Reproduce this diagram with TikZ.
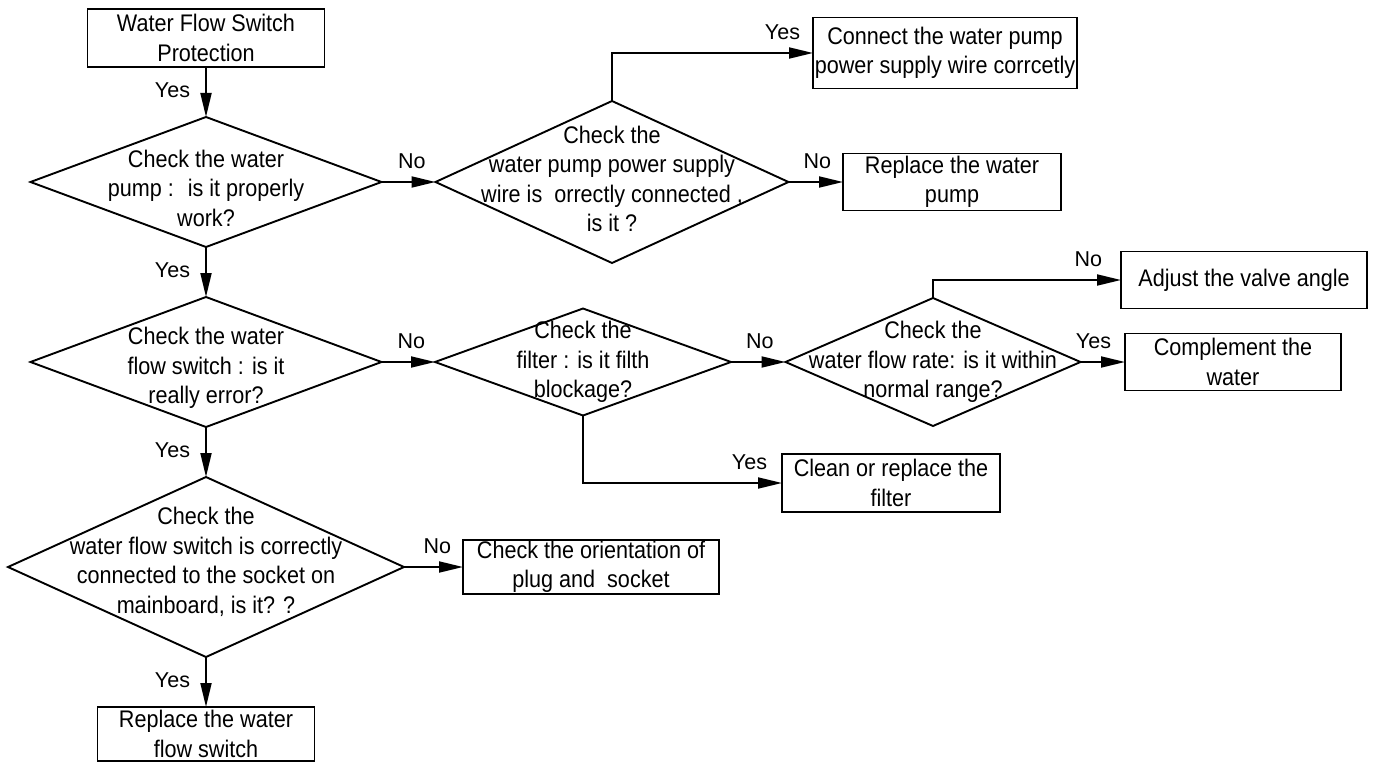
\documentclass[tikz,border=0pt]{standalone}
\usepackage{fontspec}
\setmainfont{Liberation Sans}[FakeStretch=0.9]
\newfontfamily\lblfont{Liberation Sans}
\usetikzlibrary{shapes.geometric, arrows.meta, positioning}
\newcommand\flowfont{\fontsize{24}{29.5}\selectfont}
\tikzset{
    stepbox/.style={rectangle, draw, line width=1.9pt, inner sep=1pt, outer sep=0pt,
        align=center, font=\flowfont},
    decision/.style={diamond, draw, line width=1.9pt, inner sep=0pt, outer sep=0pt},
    question/.style={align=center, inner sep=0pt, font=\flowfont},
    flowarrow/.style={-{Triangle[length=24pt, width=11pt]}, line width=1.9pt},
    answer/.style={inner sep=0pt, text height=15pt, text depth=4pt,
        font=\lblfont\fontsize{21.5}{24}\selectfont},
}

\begin{document}
\begin{tikzpicture}[x=1pt, y=-1pt]
    \useasboundingbox (0,0) rectangle (1373,762);

    % main column
    \node[stepbox, minimum width=237pt, minimum height=58pt] (start) at (206,38) {Water Flow Switch\\Protection};
    \node[decision, minimum width=351pt, minimum height=130pt] (pump) at (206,182) {};
    \node[question, yshift=-6pt] (pumpq) at (pump) {Check the water\\pump :~ is it properly\\work?};
    \node[decision, minimum width=351pt, minimum height=130pt] (flow) at (206,362) {};
    \node[question, yshift=-6pt] (flowq) at (flow) {Check the water\\flow switch : is it\\really error?};
    \node[decision, minimum width=396pt, minimum height=180pt] (socket) at (206,567) {};
    \node[question, yshift=5pt] (socketq) at (socket) {Check the\\water flow switch is correctly\\connected to the socket on\\mainboard, is it? ?};
    \node[stepbox, minimum width=217pt, minimum height=54pt] (rswitch) at (206,734) {Replace the water\\flow switch};

    % pump branch
    \node[decision, minimum width=353pt, minimum height=162pt] (wire) at (612,182) {};
    \node[question, yshift=3pt] (wireq) at (wire) {Check the\\water pump power supply\\wire is~ orrectly connected ,\\is it ?};
    \node[stepbox, minimum width=264pt, minimum height=71pt] (conn) at (945,53) {Connect the water pump\\power supply wire corrcetly};
    \node[stepbox, minimum width=218pt, minimum height=57pt] (rpump) at (952,182) {Replace the water\\pump};

    % flow switch branch
    \node[decision, minimum width=296pt, minimum height=107pt] (filter) at (583,362) {};
    \node[question] (filterq) at (filter) {Check the\\filter : is it filth\\blockage?};
    \node[decision, minimum width=295pt, minimum height=128pt] (rate) at (933,362) {};
    \node[question] (rateq) at (rate) {Check the\\water flow rate: is it within\\normal range?};
    \node[stepbox, minimum width=246pt, minimum height=57pt] (adjust) at (1244,280) {Adjust the valve angle};
    \node[stepbox, minimum width=216pt, minimum height=57pt] (compl) at (1233,362) {Complement the\\water};
    \node[stepbox, minimum width=218pt, minimum height=58pt] (clean) at (891,483) {Clean or replace the\\filter};

    % socket branch
    \node[stepbox, minimum width=256pt, minimum height=54pt] (orient) at (591,567) {Check the orientation of\\plug and~ socket};

    % connectors
    \draw[flowarrow] (start.south) -- node[answer, midway, left=15pt] (y1) {Yes} (pump.north);
    \draw[flowarrow] (pump.south) -- node[answer, midway, left=15pt] (y2) {Yes} (flow.north);
    \draw[flowarrow] (flow.south) -- node[answer, midway, left=15pt] (y3) {Yes} (socket.north);
    \draw[flowarrow] (socket.south) -- node[answer, midway, left=15pt] (y4) {Yes} (rswitch.north);
    \draw[flowarrow] (pump.east) -- node[answer, pos=1, above left=9pt and 9pt] (n1) {No} (wire.west);
    \draw[flowarrow] (wire.north) |- node[answer, pos=1, above left=9pt and 12pt] (y5) {Yes} (conn.west);
    \draw[flowarrow] (wire.east) -- node[answer, pos=1, above left=9pt and 11pt] (n2) {No} (rpump.west);
    \draw[flowarrow] (flow.east) -- node[answer, pos=1, above left=9pt and 9pt] (n3) {No} (filter.west);
    \draw[flowarrow] (filter.east) -- node[answer, pos=1, above left=9pt and 11pt] (n4) {No} (rate.west);
    \draw[flowarrow] (rate.north) |- node[answer, pos=1, above left=9pt and 18pt] (n5) {No} (adjust.west);
    \draw[flowarrow] (rate.east) -- node[answer, pos=1, above left=9pt and 13pt] (y6) {Yes} (compl.west);
    \draw[flowarrow] (filter.south) |- node[answer, pos=1, above left=9pt and 14pt] (y7) {Yes} (clean.west);
    \draw[flowarrow] (socket.east) -- node[answer, pos=1, above left=9pt and 11pt] (n6) {No} (orient.west);
\end{tikzpicture}
\end{document}
